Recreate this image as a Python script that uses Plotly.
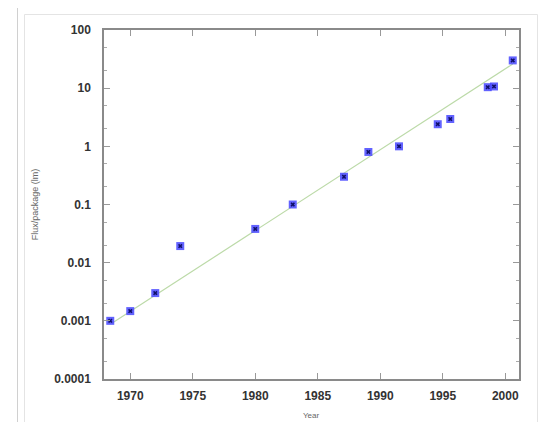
import plotly.graph_objects as go

# Data
years = [1968.4, 1970.0, 1972.0, 1974.0, 1980.0, 1983.0, 1987.1, 1989.05,
         1991.5, 1994.6, 1995.6, 1998.6, 1999.1, 2000.6]
flux = [0.001, 0.00147, 0.003, 0.0193, 0.038, 0.1, 0.3, 0.8,
        1.0, 2.4, 2.95, 10.4, 10.7, 30.0]

fit_years = [1968.5, 2000.6]
fit_flux = [0.0009, 26.0]

y_tickvals = [0.0001, 0.001, 0.01, 0.1, 1, 10, 100]
y_ticktext = ["0.0001", "0.001", "0.01", "0.1", "1", "10", "100"]
x_tickvals = [1970, 1975, 1980, 1985, 1990, 1995, 2000]

minor_vals = [m * d for d in [0.0001, 0.001, 0.01, 0.1, 1, 10] for m in (2, 5)]

fig = go.Figure()
fig.add_trace(go.Scatter(x=fit_years, y=fit_flux, mode="lines",
                         line=dict(color="#bcdaa8", width=1.2),
                         hoverinfo="skip", showlegend=False))
fig.add_trace(go.Scatter(x=years, y=flux, mode="markers",
                         marker=dict(symbol="square", size=8,
                                     color="rgba(70,70,255,0.85)",
                                     line=dict(width=0)),
                         showlegend=False))
fig.add_trace(go.Scatter(x=years, y=flux, mode="markers",
                         marker=dict(symbol="x", size=4, color="#10106a",
                                     line=dict(width=0)),
                         showlegend=False, hoverinfo="skip"))

# page body has an 8px default margin, so work in window pixels and subtract it
OFF = 8
W, H = 548 - OFF, 422 - OFF
PL, PR, PT, PB = 104, 519, 30, 379          # plot box in window pixels
L, T = PL - OFF, PT - OFF
R = W - L - (PR - PL)
B = H - T - (PB - PT)
pw, ph = PR - PL, PB - PT

def px(x):
    return (x - PL) / pw

def py(y):
    return 1 - (y - PT) / ph

shapes = [
    dict(type="rect", xref="paper", yref="paper",
         x0=px(17.5), x1=px(542.5), y0=py(460), y1=py(7.5),
         line=dict(color="#d0d0d0", width=1), layer="below"),
    dict(type="rect", xref="paper", yref="paper",
         x0=px(24.5), x1=px(537.5), y0=py(460), y1=py(14.5),
         line=dict(color="#e4e4e4", width=1), layer="below"),
]

tickfont = dict(family="Liberation Sans, Arial", size=12, color="#333333", weight=700)

fig.update_layout(
    width=W, height=H,
    margin=dict(l=L, r=R, t=T, b=B),
    paper_bgcolor="white", plot_bgcolor="white",
    shapes=shapes,
    annotations=[dict(text="Year", xref="paper", yref="paper",
                      x=0.5, y=py(415), xanchor="center", yanchor="middle",
                      showarrow=False,
                      font=dict(family="Liberation Sans, Arial", size=8,
                                color="#666666"))],
    xaxis=dict(range=[1967.9, 2001.1], tickvals=x_tickvals,
               ticks="inside", ticklen=6, tickcolor="#999999", tickwidth=1,
               showline=True, linecolor="#8a8a8a", linewidth=1.5, mirror="ticks",
               showgrid=False, zeroline=False, tickfont=tickfont,
               ticklabelstandoff=5, automargin=False),
    yaxis=dict(type="log", range=[-4, 2], tickvals=y_tickvals, ticktext=y_ticktext,
               ticks="inside", ticklen=6, tickcolor="#999999", tickwidth=1,
               showline=True, linecolor="#8a8a8a", linewidth=1.5, mirror="ticks",
               showgrid=False, zeroline=False, tickfont=tickfont,
               ticklabelstandoff=9, automargin=False,
               minor=dict(tickvals=minor_vals, ticks="inside", ticklen=3,
                          tickcolor="#aaaaaa", showgrid=False),
               title=dict(text="Flux/package (lm)",
                          font=dict(family="Liberation Sans, Arial", size=9,
                                    color="#666666"),
                          standoff=14)),
)

fig.write_html("out.html")
